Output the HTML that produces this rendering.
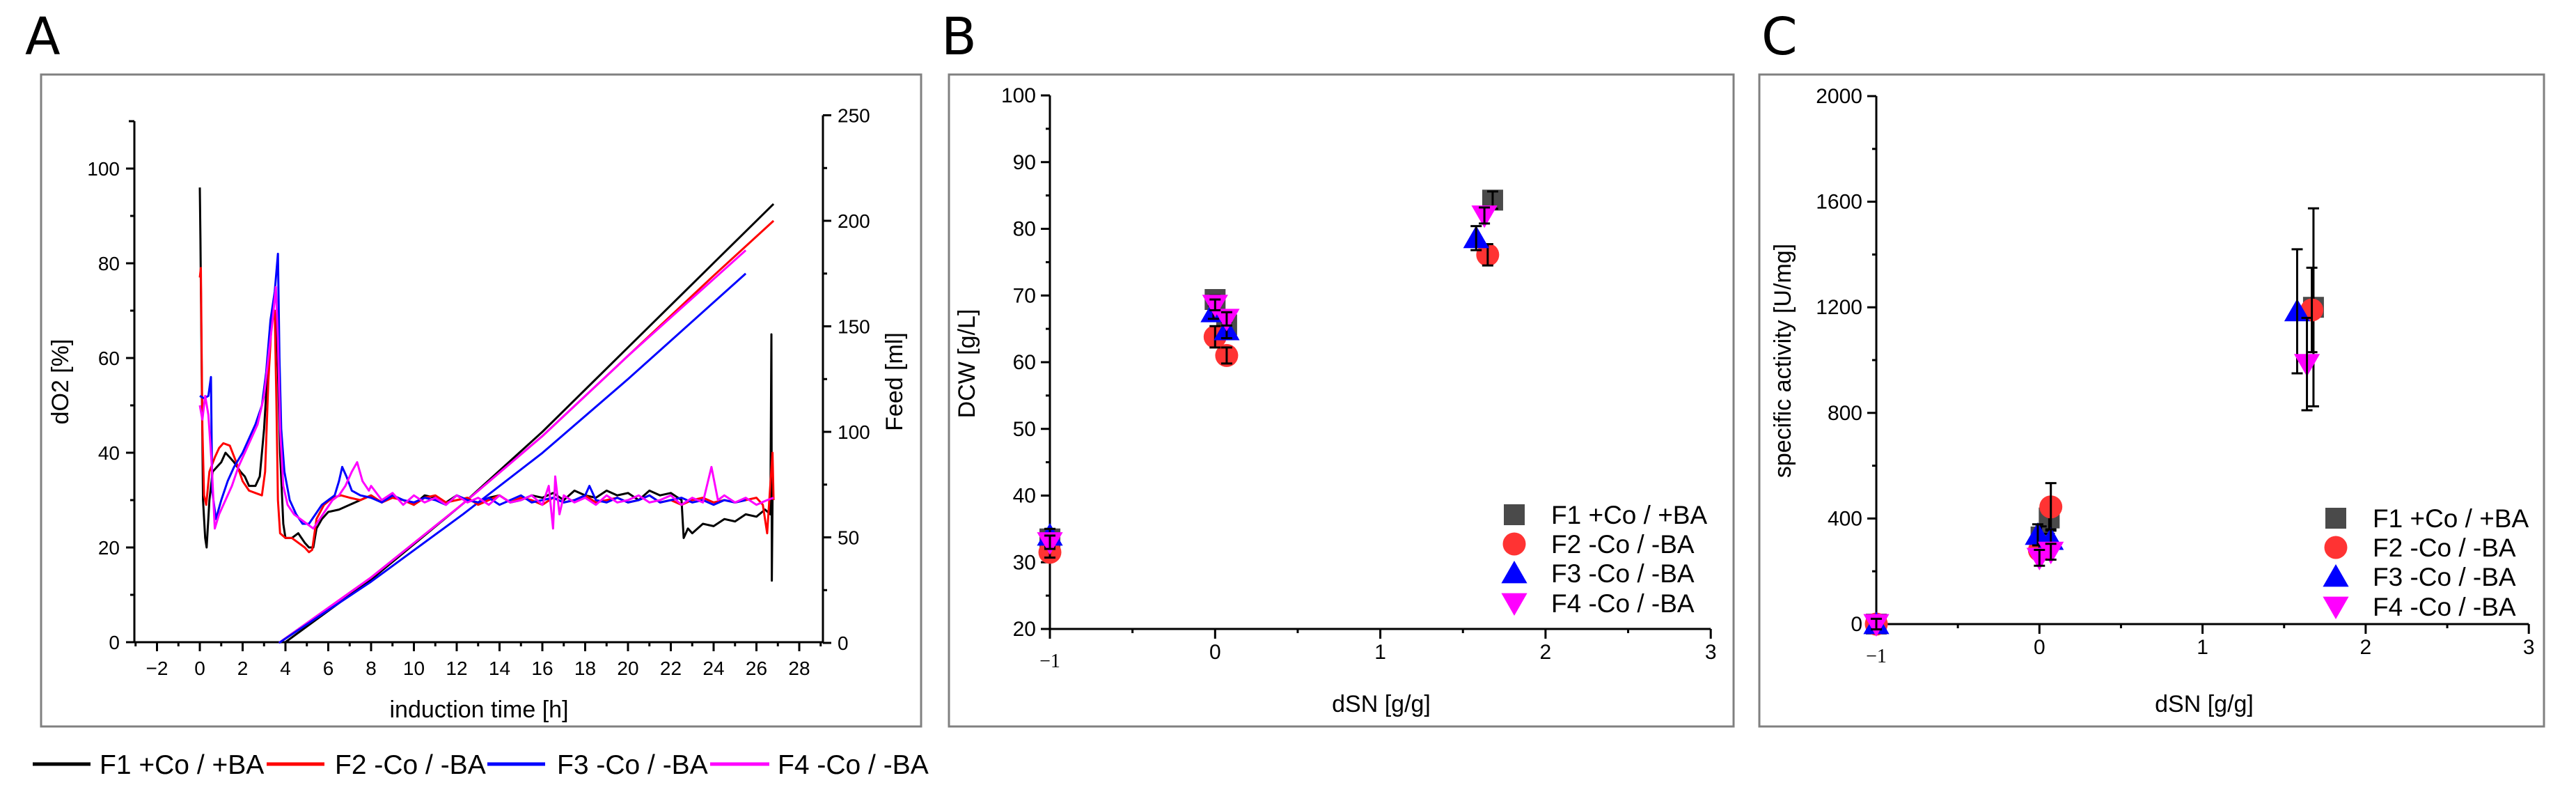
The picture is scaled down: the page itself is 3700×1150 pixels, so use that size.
<!DOCTYPE html>
<html><head><meta charset="utf-8">
<style>
html,body{margin:0;padding:0;background:#fff;}
svg{display:block;font-family:"Liberation Sans",Arial,sans-serif;}
</style></head>
<body>
<svg id="fig" width="3700" height="1150" viewBox="0 0 3700 1150" xmlns="http://www.w3.org/2000/svg"></svg>
<script>
// ===== Panel A data =====
const aTicksX = [-2,0,2,4,6,8,10,12,14,16,18,20,22,24,26,28];
const aTicksLeft = [0,20,40,60,80,100];
const aTicksRight = [0,50,100,150,200,250];
const seriesNames = ["F1 +Co / +BA","F2 -Co / -BA","F3 -Co / -BA","F4 -Co / -BA"];
const lineColors = ["#000000","#ff0000","#0000ff","#ff00ff"];
// dO2 [%] series: [time h, value]
const f1DO2 = [[0,96],[0.03,85],[0.08,60],[0.15,30],[0.25,22],[0.32,20],[0.45,30],[0.6,36],[0.8,37],[1.0,38],[1.2,40],[1.4,39],[1.6,38],[1.9,36],[2.1,35],[2.3,33],[2.6,33],[2.8,35],[3.0,45],[3.2,60],[3.35,68],[3.5,70],[3.6,66],[3.75,40],[3.9,25],[4.0,22],[4.3,22],[4.6,23],[4.9,21],[5.1,20],[5.3,20],[5.45,24],[5.7,26],[6.0,27.5],[6.5,28],[7.0,29],[7.5,30],
[8,31],[8.5,29.5],[9,31],[9.5,30],[10,29],[10.5,31],[11,30.5],[11.5,29.5],[12,31],[12.5,30],[13,29.5],[13.5,30.5],[14,31],[14.5,29.5],[15,30],[15.5,31],[16,30.5],[16.5,31.5],[17,30],[17.5,32],[18,31],[18.5,30.5],[19,32],[19.5,31],[20,31.5],[20.5,30],[21,32],[21.5,31],[22,31.5],[22.5,30],
[22.6,22],[22.8,24],[23,23],[23.5,25],[24,24.5],[24.5,26],[25,25.5],[25.5,27],[26,26.5],[26.4,28],[26.65,27],[26.7,65],[26.72,13],[26.75,30]];
const f2DO2 = [[0,77],[0.05,79],[0.12,45],[0.2,31],[0.3,29],[0.45,36],[0.7,39],[0.9,41],[1.1,42],[1.4,41.5],[1.7,38],[2.0,34],[2.3,32],[2.6,31.5],[2.9,31],[3.05,36],[3.2,55],[3.35,67],[3.5,70],[3.58,50],[3.65,30],[3.75,23],[4.0,22],[4.3,22],[4.6,21],[4.9,20],[5.1,19],[5.25,19.5],[5.45,26],[5.8,29],[6.2,30.5],[6.6,31],[7.0,30.5],
[7.5,30],[8,31],[8.5,29.5],[9,30.5],[9.5,30],[10,29],[10.5,30.5],[11,31],[11.5,29.5],[12,30],[12.5,30.5],[13,29],[13.5,30],[14,31],[14.5,29.5],[15,30.5],[15.5,30],[16,29],[16.5,30.5],[17,29.5],[17.5,30],[18,31],[18.5,29.5],[19,30],[19.5,30.5],[20,29.5],[20.5,30],[21,31],[21.5,29.5],[22,30],[22.5,29],[23,30],[23.5,30.5],[24,29.5],[24.5,30],[25,29.5],[25.5,30],[26,30.5],
[26.3,29],[26.5,23],[26.6,30],[26.75,40],[26.8,30]];
const f3DO2 = [[0,52],[0.2,51.5],[0.4,52],[0.52,56],[0.58,32],[0.75,26],[1.0,30],[1.3,34],[1.6,37],[2.0,40],[2.3,43],[2.6,46],[2.9,50],[3.1,57],[3.3,68],[3.5,74],[3.65,82],[3.72,60],[3.8,45],[3.95,36],[4.2,30],[4.5,27],[4.8,25],[5.1,25],[5.4,27],[5.7,29],[6.0,30],[6.3,31],[6.5,34],[6.65,37],[6.85,35],[7.1,32],[7.5,31],
[8,30.5],[8.5,29.5],[9,31],[9.5,30],[10,29.5],[10.5,30.5],[11,30],[11.5,29],[12,31],[12.5,30],[13,29.5],[13.5,30.5],[14,29],[14.5,30],[15,31],[15.5,29.5],[16,30],[16.5,30.5],[17,29.5],[17.5,30],[18,31],[18.2,33],[18.5,30],[19,29.5],[19.5,30.5],[20,29.5],[20.5,30],[21,31],[21.5,29.5],[22,30],[22.5,30.5],[23,29.5],[23.5,30],[24,29],[24.5,30],[25,29.5],[25.5,30]];
const f4DO2 = [[0,50],[0.12,47],[0.25,52],[0.4,48],[0.55,38],[0.7,24],[0.9,27],[1.2,30],[1.5,33],[1.8,37],[2.1,40],[2.4,43],[2.7,46],[3.0,52],[3.2,60],[3.4,68],[3.55,75],[3.65,64],[3.75,45],[3.9,33],[4.1,29],[4.4,27],[4.7,26],[5.0,25],[5.3,24],[5.6,26],[5.9,28],[6.2,30],[6.5,31],[6.8,33],[7.1,36],[7.35,38],[7.6,34],[7.9,32],
[8,33],[8.5,30],[9,31.5],[9.5,29],[10,31],[10.5,29.5],[11,30.5],[11.5,29],[12,31],[12.5,29.5],[13,30.5],[13.5,29],[14,31],[14.5,29.5],[15,30],[15.5,31],[16,29],[16.3,33],[16.5,24],[16.6,35],[16.8,27],[17,31],[17.5,29.5],[18,30.5],[18.5,29],[19,31],[19.5,29.5],[20,30],[20.5,31],[21,29.5],[21.5,30],[22,31],[22.5,29],[23,30.5],[23.5,29.5],[23.9,37],[24.2,30],[24.5,31],[25,29.5],[25.5,30.5],[26,29],[26.5,30],[26.8,30.5]];
// Feed [ml] series: [time h, value]
const f1Feed = [[3.95,0],[8,30],[12.3,66],[16,100],[20,140],[24,180],[26.8,208]];
const f2Feed = [[3.7,0],[8,31],[12.3,66],[16,98],[20,136],[24,174],[26.8,200]];
const f3Feed = [[3.7,0],[8,29],[12.3,61],[16,90],[20,125],[25.5,175]];
const f4Feed = [[3.7,0],[8,31],[12.3,66],[16,98],[20,136],[25.5,186]];

// ===== Panel B data (DCW) =====
const bTicksX = [-1,0,1,2,3];
const bTicksY = [20,30,40,50,60,70,80,90,100];
const bF1x = [-1,0.0,0.07,1.68]; const bF1y = [33.5,69.4,65.6,84.3]; const bF1e = [1.5,0.6,1.0,1.3];
const bF2x = [-1,0.0,0.07,1.65]; const bF2y = [31.5,63.8,61.0,76.1]; const bF2e = [0.8,1.6,1.2,1.6];
const bF3x = [-1,-0.01,0.07,1.58]; const bF3y = [34.0,67.5,64.8,78.6]; const bF3e = [1.0,1.0,1.2,1.8];
const bF4x = [-1,0.0,0.07,1.63]; const bF4y = [33.0,68.6,66.5,82.0]; const bF4e = [1.0,0.8,1.0,1.2];

// ===== Panel C data (specific activity) =====
const cTicksX = [-1,0,1,2,3];
const cTicksY = [0,400,800,1200,1600,2000];
const cF1x = [-1,0.01,0.06,1.68]; const cF1y = [0,330,402,1200]; const cF1e = [20,40,60,375];
const cF2x = [-1,0.0,0.07,1.67]; const cF2y = [0,280,444,1190]; const cF2e = [20,30,90,160];
const cF3x = [-1,-0.01,0.07,1.58]; const cF3y = [0,338,319,1185]; const cF3e = [20,40,40,235];
const cF4x = [-1,0.0,0.07,1.64]; const cF4y = [0,251,274,985]; const cF4e = [20,30,30,175];

const markerColors = ["#4a4a4a","#ff3333","#0000ff","#ff00ff"];
const markerShapes = ["square","circle","up","down"];

const NS = "http://www.w3.org/2000/svg";
const svg = document.getElementById("fig");
function el(tag, attrs, parent){ const e=document.createElementNS(NS,tag); for(const k in attrs) e.setAttribute(k,attrs[k]); (parent||svg).appendChild(e); return e; }
function txt(s, x, y, size, anchor, parent, extra){ const t=el("text",Object.assign({x:x,y:y,"font-size":size,"text-anchor":anchor||"middle",fill:"#000"},extra||{}),parent); t.textContent=s; return t; }

function group(name){ const g=el("g",{}); 

return g; }

function panelFrame(name, x0, y0, x1, y1){
  const r=el("rect",{x:x0,y:y0,width:x1-x0,height:y1-y0,fill:"none",stroke:"#808080","stroke-width":3});
  
  
}
function panelLetter(s,x,y){
  const t=txt(s,x,y,74,"start",svg,{"font-family":"'DejaVu Sans','Liberation Sans',sans-serif"});
  
  
}

// ================= PANEL A =================
const A = {x0:287, px:30.75, yl0:922, pyl:6.8, yr0:923, pyr:3.03};
const ax = t => A.x0 + t*A.px;
const ayl = v => A.yl0 - v*A.pyl;
const ayr = v => A.yr0 - v*A.pyr;
panelFrame("panel-a-frame",59,107,1323,1043);
panelLetter("A",36,78);
(function(){
  const g = group("panel-a-axes");
  el("line",{x1:193,y1:922,x2:1182,y2:922,stroke:"#000","stroke-width":3},g);
  el("line",{x1:193,y1:ayl(110),x2:193,y2:922,stroke:"#000","stroke-width":3},g);
  el("line",{x1:1182,y1:ayr(250),x2:1182,y2:923,stroke:"#000","stroke-width":3},g);
  el("line",{x1:193,y1:ayl(110),x2:185,y2:ayl(110),stroke:"#000","stroke-width":3},g);
  for(let t=-3;t<=29;t++){ const maj = aTicksX.indexOf(t)>=0; el("line",{x1:ax(t),y1:922,x2:ax(t),y2:922+(maj?13:6),stroke:"#000","stroke-width":3},g); }
  aTicksX.forEach(t=>{ txt(t<0?"\u2212"+(-t):String(t), ax(t), 969, 28, "middle", g); });
  for(let v=0;v<=110;v+=10){ const maj=aTicksLeft.indexOf(v)>=0; el("line",{x1:193,y1:ayl(v),x2:193-(maj?12:6),y2:ayl(v),stroke:"#000","stroke-width":3},g); }
  aTicksLeft.forEach(v=>txt(String(v),172,ayl(v)+10,28,"end",g));
  for(let v=0;v<=250;v+=25){ const maj=aTicksRight.indexOf(v)>=0; el("line",{x1:1182,y1:ayr(v),x2:1182+(maj?12:6),y2:ayr(v),stroke:"#000","stroke-width":3},g); }
  aTicksRight.forEach(v=>txt(String(v),1203,ayr(v)+10,28,"start",g));
  const yt=txt("dO2 [%]",0,0,34,"middle",g,{transform:"translate(98,548) rotate(-90)"});
  
  
  const yt2=txt("Feed [ml]",0,0,34,"middle",g,{transform:"translate(1296,548) rotate(-90)"});
  
  
  const xt=txt("induction time [h]",688,1030,34,"middle",g);
  
  
})();
function polyA(data, yfn, color, name){
  const p = data.map(d=>ax(d[0]).toFixed(1)+","+yfn(d[1]).toFixed(1)).join(" ");
  const l = el("polyline",{points:p,fill:"none",stroke:color,"stroke-width":3,"stroke-linejoin":"round"});
  
  
}
polyA(f1Feed, ayr, lineColors[0], "feed-line-f1");
polyA(f2Feed, ayr, lineColors[1], "feed-line-f2");
polyA(f4Feed, ayr, lineColors[3], "feed-line-f4");
polyA(f3Feed, ayr, lineColors[2], "feed-line-f3");
polyA(f1DO2, ayl, lineColors[0], "do2-line-f1");
polyA(f2DO2, ayl, lineColors[1], "do2-line-f2");
polyA(f3DO2, ayl, lineColors[2], "do2-line-f3");
polyA(f4DO2, ayl, lineColors[3], "do2-line-f4");
// legend A
(function(){
  const lx=[47,383,700,1020], tx=[143,481,800,1117];
  seriesNames.forEach((n,i)=>{
    const g=el("g",{});
    
    
    el("line",{x1:lx[i],y1:1097,x2:lx[i]+(i==3?85:83),y2:1097,stroke:lineColors[i],"stroke-width":5},g);
    txt(n,tx[i],1111,39,"start",g);
  });
})();

// ================= scatter panels =================
function marker(g, shape, cx, cy, s, color){
  if(shape==="square") el("rect",{x:cx-s/2,y:cy-s/2,width:s,height:s,fill:color},g);
  else if(shape==="circle") el("circle",{cx:cx,cy:cy,r:s*0.55,fill:color},g);
  else if(shape==="up") el("polygon",{points:`${cx},${cy-s*0.6} ${cx-s*0.62},${cy+s*0.48} ${cx+s*0.62},${cy+s*0.48}`,fill:color},g);
  else el("polygon",{points:`${cx},${cy+s*0.6} ${cx-s*0.62},${cy-s*0.48} ${cx+s*0.62},${cy-s*0.48}`,fill:color},g);
}
function scatterPanel(cfg){
  const sx=v=>cfg.x0+(v+1)*cfg.px, sy=v=>cfg.yBase-(v-cfg.yMin)*cfg.py;
  panelFrame(cfg.id+"-frame",cfg.fx0,107,cfg.fx1,1043);
  panelLetter(cfg.letter,cfg.lx,78);
  const g=group(cfg.id+"-axes");
  el("line",{x1:cfg.x0,y1:cfg.yBase,x2:sx(3),y2:cfg.yBase,stroke:"#000","stroke-width":3},g);
  el("line",{x1:cfg.x0,y1:sy(cfg.yMax),x2:cfg.x0,y2:cfg.yBase+14,stroke:"#000","stroke-width":3},g);
  for(let v=-1;v<=3;v+=0.5){ const maj=Number.isInteger(v); el("line",{x1:sx(v),y1:cfg.yBase,x2:sx(v),y2:cfg.yBase+(maj?14:6),stroke:"#000","stroke-width":3},g); }
  cfg.ticksX.forEach(v=>{ if(v===-1) txt("\u22121",sx(v),cfg.yBase+55,28,"middle",g,{"font-family":"'Liberation Serif',serif"}); else txt(String(v),sx(v),cfg.yBase+43,30,"middle",g); });
  for(let v=cfg.yMin; v<=cfg.yMax; v+=cfg.minor){ const maj=cfg.ticksY.indexOf(v)>=0; el("line",{x1:cfg.x0,y1:sy(v),x2:cfg.x0-(maj?13:6),y2:sy(v),stroke:"#000","stroke-width":3},g); }
  cfg.ticksY.forEach(v=>txt(String(v),cfg.x0-20,sy(v)+10,30,"end",g));
  const yt=txt(cfg.ytitle,0,0,34,"middle",g,{transform:`translate(${cfg.ytx},${cfg.yty}) rotate(-90)`});
  
  
  const xt=txt("dSN [g/g]",cfg.xtx,1022,34,"middle",g);
  
  
  cfg.series.forEach((s,i)=>{
    const sg=el("g",{});
    
    
    s.x.forEach((xv,j)=>{ marker(sg, markerShapes[i], sx(xv), sy(s.y[j]), 30, markerColors[i]); });
    s.x.forEach((xv,j)=>{
      const cx=sx(xv), y1=sy(s.y[j]+s.e[j]), y2=sy(s.y[j]-s.e[j]);
      el("line",{x1:cx,y1:y1,x2:cx,y2:y2,stroke:"#000","stroke-width":3},sg);
      el("line",{x1:cx-8,y1:y1,x2:cx+8,y2:y1,stroke:"#000","stroke-width":3},sg);
      el("line",{x1:cx-8,y1:y2,x2:cx+8,y2:y2,stroke:"#000","stroke-width":3},sg);
    });
  });
  seriesNames.forEach((n,i)=>{
    const lg=el("g",{});
    
    
    const yy=cfg.legY[i];
    marker(lg, markerShapes[i], cfg.legMx, yy, 30, markerColors[i]);
    txt(n,cfg.legTx,yy+13,37,"start",lg);
  });
}
scatterPanel({id:"panel-b",letter:"B",lx:1352,fx0:1363,fx1:2490,x0:1508,px:237.3,yBase:903,yMin:20,yMax:100,py:9.575,minor:5,
  ticksX:bTicksX,ticksY:bTicksY,ytitle:"DCW [g/L]",ytx:1400,yty:522,xtx:1984,
  legMx:2175,legTx:2228,legY:[739,781,823,866],
  series:[{x:bF1x,y:bF1y,e:bF1e},{x:bF2x,y:bF2y,e:bF2e},{x:bF3x,y:bF3y,e:bF3e},{x:bF4x,y:bF4y,e:bF4e}]});
scatterPanel({id:"panel-c",letter:"C",lx:2530,fx0:2527,fx1:3654,x0:2695,px:234.3,yBase:896,yMin:0,yMax:2000,py:0.379,minor:200,
  ticksX:cTicksX,ticksY:cTicksY,ytitle:"specific activity [U/mg]",ytx:2572,yty:518,xtx:3166,
  legMx:3355,legTx:3408,legY:[744,786,828,871],
  series:[{x:cF1x,y:cF1y,e:cF1e},{x:cF2x,y:cF2y,e:cF2e},{x:cF3x,y:cF3y,e:cF3e},{x:cF4x,y:cF4y,e:cF4e}]});
</script>
</body></html>
